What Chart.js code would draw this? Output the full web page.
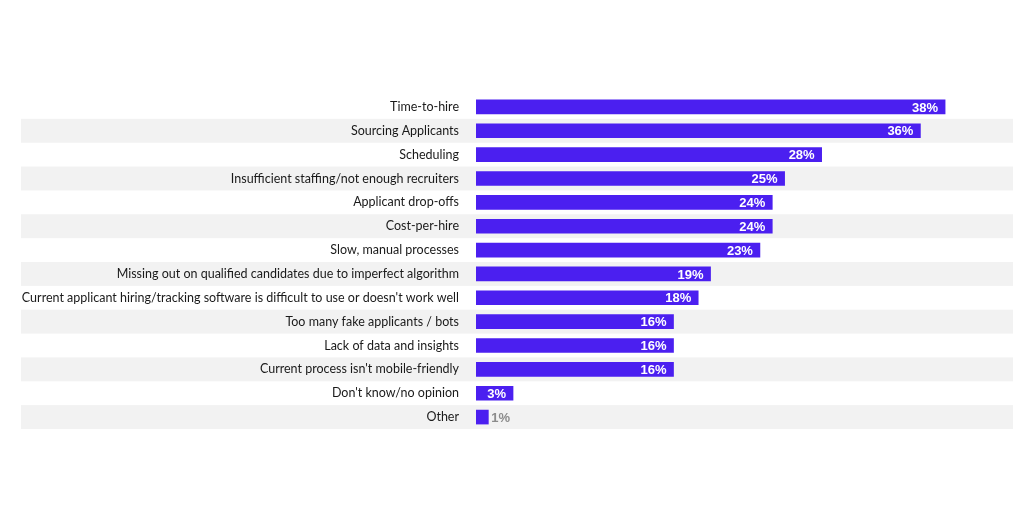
<!DOCTYPE html>
<html>
<head>
<meta charset="utf-8">
<script src="https://cdn.jsdelivr.net/npm/chart.js@4"></script>
<style>
html,body{margin:0;padding:0;background:#fff;}
#wrap{width:1024px;height:512px;}
</style>
</head>
<body>
<div id="wrap"><canvas id="c" width="1024" height="512"></canvas></div>
<script>
const categories = [
  "Time-to-hire",
  "Sourcing Applicants",
  "Scheduling",
  "Insufficient staffing/not enough recruiters",
  "Applicant drop-offs",
  "Cost-per-hire",
  "Slow, manual processes",
  "Missing out on qualified candidates due to imperfect algorithm",
  "Current applicant hiring/tracking software is difficult to use or doesn't work well",
  "Too many fake applicants / bots",
  "Lack of data and insights",
  "Current process isn't mobile-friendly",
  "Don't know/no opinion",
  "Other"
];
const values = [38, 36, 28, 25, 24, 24, 23, 19, 18, 16, 16, 16, 3, 1];

const bandPlugin = {
  id: 'bands',
  beforeDraw(chart) {
    const {ctx, chartArea} = chart;
    const y = chart.scales.y;
    const step = Math.abs(y.getPixelForValue(1) - y.getPixelForValue(0));
    ctx.save();
    ctx.fillStyle = '#f2f2f2';
    for (let i = 1; i < categories.length; i += 2) {
      const cy = y.getPixelForValue(i);
      ctx.fillRect(21, cy - step / 2, chartArea.right - 21, step);
    }
    ctx.restore();
  }
};

const labelPlugin = {
  id: 'vlabels',
  afterDatasetsDraw(chart) {
    const {ctx} = chart;
    const meta = chart.getDatasetMeta(0);
    ctx.save();
    ctx.font = 'bold 13px "Liberation Sans", Arial, sans-serif';
    ctx.textBaseline = 'middle';
    meta.data.forEach((bar, i) => {
      const txt = values[i] + '%';
      const w = ctx.measureText(txt).width;
      const barW = bar.x - bar.base;
      if (barW > w + 10) {
        ctx.fillStyle = '#ffffff';
        ctx.textAlign = 'right';
        ctx.fillText(txt, bar.x - 7, bar.y + 1);
      } else {
        ctx.fillStyle = '#8c8c8c';
        ctx.textAlign = 'left';
        ctx.fillText(txt, bar.x + 3, bar.y + 1);
      }
    });
    ctx.restore();
  }
};

new Chart(document.getElementById('c'), {
  type: 'bar',
  data: {
    labels: categories,
    datasets: [{
      data: values,
      backgroundColor: '#4b1ff0',
      borderWidth: 0,
      barThickness: 14
    }]
  },
  options: {
    indexAxis: 'y',
    responsive: false,
    animation: false,
    devicePixelRatio: 1,
    layout: { padding: { left: 0, right: 11, top: 95, bottom: 83 } },
    plugins: { legend: { display: false }, tooltip: { enabled: false } },
    scales: {
      x: {
        display: false,
        min: 0,
        max: 43.5
      },
      y: {
        afterFit(scale) { scale.width = 476; },
        grid: { display: false, drawTicks: false },
        border: { display: false },
        ticks: {
          padding: 17,
          color: '#1a1a1a',
          font: { family: 'Lato, "Open Sans", sans-serif', size: 12.5 }
        }
      }
    }
  },
  plugins: [bandPlugin, labelPlugin]
});
</script>
</body>
</html>
